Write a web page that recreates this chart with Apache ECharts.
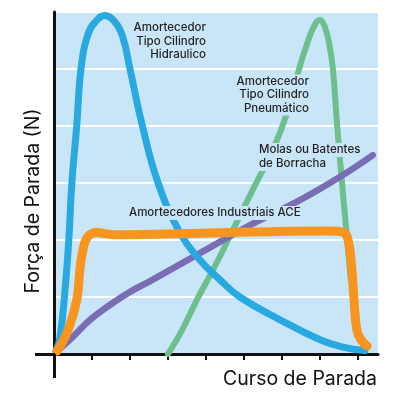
<!DOCTYPE html>
<html><head><meta charset="utf-8">
<script src="https://cdn.jsdelivr.net/npm/echarts@6/dist/echarts.min.js"></script>
<style>html,body{margin:0;padding:0;background:#fff}#c{width:400px;height:400px}</style>
</head><body><div id="c"></div>
<script>
// Data (x = stroke units, y = force units)
const hidraulico = [[0.05,0.05],[0.16,0.3],[0.3,1.2],[0.39,2.0],[0.47,3.0],[0.6,4.02],[0.71,5.0],[0.9,5.62],[1.12,5.85],[1.34,5.94],[1.57,5.85],[1.8,5.58],[2.0,5.0],[2.32,4.02],[2.74,3.0],[3.32,2.12],[3.84,1.65],[4.37,1.3],[4.89,1.0],[5.95,0.6],[7.0,0.25],[7.6,0.12],[8.18,0.06]];
const pneumatico = [[3.0,0.0],[3.37,0.42],[3.76,0.95],[4.18,1.47],[4.58,2.0],[4.97,2.53],[5.32,3.0],[5.76,3.58],[6.16,4.28],[6.45,5.0],[6.7,5.52],[6.88,5.8],[7.0,5.86],[7.12,5.75],[7.24,5.45],[7.34,5.0],[7.45,4.02],[7.58,3.0],[7.71,2.04],[7.81,1.3]];
const molas = [[0.08,0.05],[0.42,0.25],[0.95,0.6],[1.47,0.86],[2.0,1.09],[2.53,1.28],[3.84,1.77],[5.16,2.26],[6.47,2.7],[7.53,3.11],[8.39,3.49]];
const ace = [[0.08,0.05],[0.37,0.42],[0.6,0.95],[0.68,1.47],[0.76,1.82],[0.89,2.06],[1.13,2.13],[1.45,2.1],[1.74,2.09],[3.84,2.12],[7.26,2.16],[7.6,2.14],[7.74,2.0],[7.84,1.47],[7.89,1.0],[7.97,0.42],[8.08,0.25],[8.24,0.14]];
const xTicks = [1,2,3,4,5,6,7,8];
const labHid = ['Amortecedor','Tipo Cilindro','Hidraulico'];
const labPne = ['Amortecedor','Tipo Cilindro','Pneumático'];
const labMol = ['Molas ou Batentes','de Borracha'];
const labAce = ['Amortecedores Industriais ACE'];
const yName = 'Força de Parada (N)';
const xName = 'Curso de Parada';
const BG = '#C9E6F8';
const FONT = 'Inter, "DejaVu Sans", sans-serif';
const chart = echarts.init(document.getElementById('c'), null, {renderer:'canvas'});
function line(name, data, color, width, z){
  return {name, type:'line', data, smooth:0.45, showSymbol:false, z,
    lineStyle:{color, width, cap:'round', join:'round'}, emphasis:{disabled:true}, silent:true, animation:false};
}
function block(lines, x, yCenter, align, lh){
  return lines.map((t,i) => ({type:'text', z:100, x, y:yCenter + i*lh,
    style:{text:t, fill:'#231F20', font:'500 11.5px '+FONT, align, verticalAlign:'middle',
      backgroundColor:BG, padding:[1,2]}}));
}
chart.setOption({
  animation:false,
  grid:{left:54, top:12, right:22, bottom:46, show:true, backgroundColor:BG, borderWidth:0},
  xAxis:{type:'value', min:0, max:324/38, interval:1,
    axisLine:{show:true, lineStyle:{color:'#111', width:3}},
    axisTick:{show:true, customValues:xTicks, length:6, lineStyle:{color:'#111', width:2}},
    axisLabel:{show:false}, splitLine:{show:false}},
  yAxis:{type:'value', min:0, max:6, interval:1,
    axisLine:{show:true, lineStyle:{color:'#111', width:3}},
    axisTick:{show:false}, axisLabel:{show:false},
    splitLine:{show:true, lineStyle:{color:'#fff', width:2}}},
  series:[
    line('pne', pneumatico, '#6DBF8E', 6, 2),
    line('mol', molas, '#7A6DB6', 6.5, 3),
    line('hid', hidraulico, '#29A9E1', 7, 4),
    line('ace', ace, '#F7951F', 9, 5)
  ],
  graphic:[
    {type:'line', z:50, shape:{x1:54.5, y1:354, x2:54.5, y2:378}, style:{stroke:'#111', lineWidth:3}},
    {type:'line', z:50, shape:{x1:35, y1:354.5, x2:55, y2:354.5}, style:{stroke:'#111', lineWidth:3}},
    ...block(labHid, 208, 28, 'right', 13.5),
    ...block(labPne, 311, 81.5, 'right', 13.5),
    ...block(labMol, 257, 150, 'left', 14),
    ...block(labAce, 127, 213, 'left', 14),
    {type:'text', z:100, x:33, y:201, rotation:Math.PI/2,
      style:{text:yName, fill:'#111', font:'19.5px '+FONT, align:'center', verticalAlign:'middle'}},
    {type:'text', z:100, x:377, y:379,
      style:{text:xName, fill:'#111', font:'19.5px '+FONT, align:'right', verticalAlign:'middle'}}
  ]
});
</script></body></html>
